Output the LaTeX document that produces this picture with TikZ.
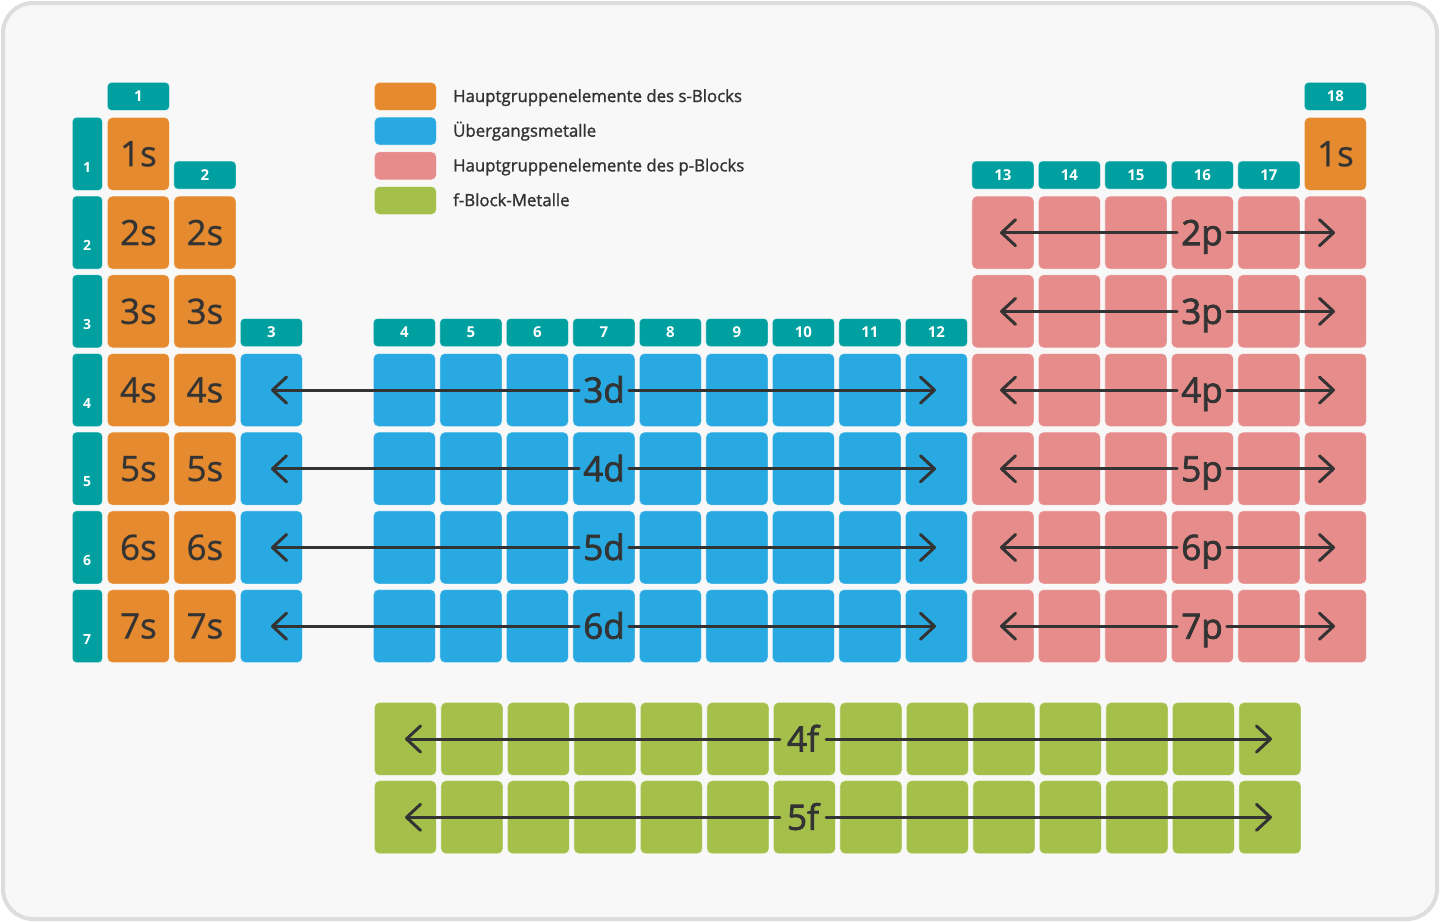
\documentclass[tikz,border=0pt]{standalone}
\usepackage{fontspec}
\setmainfont{Open Sans}
\newfontfamily\medfont[FakeBold=2.2]{Open Sans}
\newfontfamily\legfont[FakeBold=1.4]{Open Sans}
\usetikzlibrary{arrows.meta}
\definecolor{sorange}{HTML}{E58A2E}
\definecolor{dblue}{HTML}{29A9E1}
\definecolor{ppink}{HTML}{E68C8B}
\definecolor{fgreen}{HTML}{A4C04A}
\definecolor{tabteal}{HTML}{00A0A0}
\definecolor{ink}{HTML}{333333}
\definecolor{framegray}{HTML}{DDDDDD}
\definecolor{bgcol}{HTML}{F8F8F8}
\tikzset{
  cellbox/.style={rectangle, rounded corners=5pt, minimum width=62pt, minimum height=73pt,
    anchor=north west, inner sep=0pt, draw=white, draw opacity=0.45, line width=0.8pt,
    text=ink, font=\medfont\fontsize{35}{35}\selectfont},
  scell/.style={cellbox, fill=sorange},
  dcell/.style={cellbox, fill=dblue},
  pcell/.style={cellbox, fill=ppink},
  fcell/.style={cellbox, fill=fgreen},
  gtab/.style={rectangle, rounded corners=4pt, minimum width=62pt, minimum height=28pt,
    anchor=north west, inner sep=0pt, fill=tabteal, draw=white, draw opacity=0.4, line width=0.8pt,
    text=white, font=\fontsize{15}{15}\selectfont\bfseries},
  ptab/.style={rectangle, rounded corners=4pt, minimum width=30pt, minimum height=73pt,
    anchor=north west, inner sep=0pt, fill=tabteal, draw=white, draw opacity=0.4, line width=0.8pt},
  pnum/.style={text=white, font=\fontsize{14}{14}\selectfont\bfseries, inner sep=0pt},
  orblabel/.style={text=ink, font=\medfont\fontsize{35}{35}\selectfont, inner sep=4pt,
    text height=25pt, text depth=0pt},
  orbarrow/.style={draw=ink, line width=3pt, line cap=round,
    -{Straight Barb[length=14pt,width=26pt,round]}},
  legbox/.style={rectangle, rounded corners=5pt, minimum width=62pt, minimum height=28pt,
    anchor=north west, inner sep=0pt, draw=white, draw opacity=0.45, line width=0.8pt},
  legtext/.style={anchor=west, text=ink, font=\legfont\fontsize{16.8}{16.8}\selectfont, inner sep=0pt,
    text height=12pt, text depth=0pt},
}
\begin{document}
\begin{tikzpicture}[x=1pt,y=-1pt]
\useasboundingbox (0,0) rectangle (1440,922);
\draw[framegray, line width=4pt, fill=bgcol, rounded corners=30pt] (3,3) rectangle (1437,919);

% period tabs
\foreach \r in {1,...,7}{
  \pgfmathsetmacro{\yy}{117+78.7*(\r-1)}
  \node[ptab] (per\r) at (72,\yy) {};
  \node[pnum] (pn\r) at (87,{\yy+50}) {\r};
}

% s block
\foreach \r in {1,...,7}{
  \pgfmathsetmacro{\yy}{117+78.7*(\r-1)}
  \node[scell] (c-\r-1) at (107,\yy) {\r s};
}
\foreach \r in {2,...,7}{
  \pgfmathsetmacro{\yy}{117+78.7*(\r-1)}
  \node[scell] (c-\r-2) at (173.5,\yy) {\r s};
}
\node[scell] (c-1-18) at (1304,117) {1s};

% d block
\foreach \r in {4,...,7}{
  \pgfmathsetmacro{\yy}{117+78.7*(\r-1)}
  \node[dcell] (c-\r-3) at (240,\yy) {};
  \foreach \c in {4,...,12}{
    \pgfmathsetmacro{\xx}{107+66.5*\c}
    \node[dcell] (c-\r-\c) at (\xx,\yy) {};
  }
}

% p block
\foreach \r in {2,...,7}{
  \pgfmathsetmacro{\yy}{117+78.7*(\r-1)}
  \foreach \c in {13,...,18}{
    \pgfmathsetmacro{\xx}{107+66.5*\c}
    \node[pcell] (c-\r-\c) at (\xx,\yy) {};
  }
}

% f block
\foreach \r in {1,2}{
  \pgfmathsetmacro{\yy}{702+78.3*(\r-1)}
  \foreach \k in {0,...,13}{
    \pgfmathsetmacro{\xx}{374+66.5*\k}
    \node[fcell] (f-\r-\k) at (\xx,\yy) {};
  }
}

% group tabs
\node[gtab] (g1) at (107,82) {1};
\node[gtab] (g2) at (173.5,160.7) {2};
\node[gtab] (g3) at (240,318.1) {3};
\foreach \c in {4,...,12}{
  \pgfmathsetmacro{\xx}{107+66.5*\c}
  \node[gtab] (g\c) at (\xx,318.1) {\c};
}
\foreach \c in {13,...,17}{
  \pgfmathsetmacro{\xx}{107+66.5*\c}
  \node[gtab] (g\c) at (\xx,160.7) {\c};
}
\node[gtab] (g18) at (1304,82) {18};

% d arrows
\foreach \r in {4,...,7}{
  \pgfmathsetmacro{\yc}{117+78.7*(\r-1)+37}
  \pgfmathtruncatemacro{\n}{\r-1}
  \node[orblabel] (dl\r) at (604,\yc) {\n d};
  \coordinate (dL\r) at (271,\yc);
  \coordinate (dR\r) at (936,\yc);
  \draw[orbarrow] (dl\r.west) -- (dL\r);
  \draw[orbarrow] (dl\r.east) -- (dR\r);
}

% p arrows
\foreach \r in {2,...,7}{
  \pgfmathsetmacro{\yc}{117+78.7*(\r-1)+37}
  \node[orblabel] (pl\r) at (1202,\yc) {\r p};
  \coordinate (pL\r) at (1000,\yc);
  \coordinate (pR\r) at (1335,\yc);
  \draw[orbarrow] (pl\r.west) -- (pL\r);
  \draw[orbarrow] (pl\r.east) -- (pR\r);
}

% f arrows
\foreach \r in {1,2}{
  \pgfmathsetmacro{\yc}{702+78.3*(\r-1)+37}
  \pgfmathtruncatemacro{\n}{\r+3}
  \node[orblabel, inner sep=7pt] (fl\r) at (803,\yc) {\n f};
  \coordinate (fL\r) at (405,\yc);
  \coordinate (fR\r) at (1272,\yc);
  \draw[orbarrow] (fl\r.west) -- (fL\r);
  \draw[orbarrow] (fl\r.east) -- (fR\r);
}

% legend
\node[legbox, fill=sorange] (lg1) at (374,82) {};
\node[legbox, fill=dblue] (lg2) at (374,116.7) {};
\node[legbox, fill=ppink] (lg3) at (374,151.4) {};
\node[legbox, fill=fgreen] (lg4) at (374,186.1) {};
\node[legtext] (lt1) at (453,96) {Hauptgruppenelemente des s-Blocks};
\node[legtext] (lt2) at (453,130.7) {Übergangsmetalle};
\node[legtext] (lt3) at (453,165.4) {Hauptgruppenelemente des p-Blocks};
\node[legtext] (lt4) at (453,200.1) {f-Block-Metalle};
\end{tikzpicture}
\end{document}
